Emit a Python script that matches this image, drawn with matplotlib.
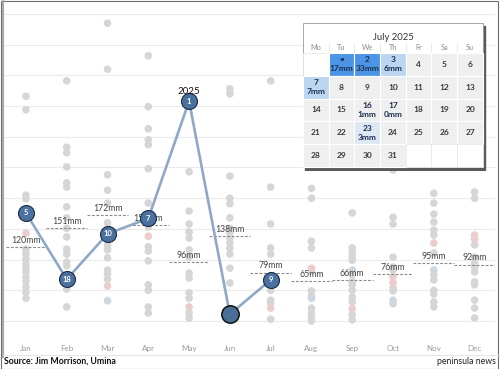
import matplotlib
matplotlib.use("Agg")
import matplotlib.pyplot as plt
from matplotlib.patches import Rectangle

plt.rcParams['font.family'] = ['Lato', 'DejaVu Sans']

months = ['Jan', 'Feb', 'Mar', 'Apr', 'May', 'Jun',
          'Jul', 'Aug', 'Sep', 'Oct', 'Nov', 'Dec']

# monthly totals (mm) of earlier years
history = [
    [366, 344, 205, 199, 117, 109, 101, 93, 86, 80, 72, 64, 55, 47, 37],
    [391, 283, 274, 251, 225, 218, 186, 168, 151, 137, 117, 109, 96, 90, 59, 52, 23],
    [485, 410, 238, 213, 192, 160, 151, 132, 124, 116, 103, 83, 77, 68],
    [432, 349, 313, 295, 287, 248, 192, 153, 121, 114, 98, 59, 50, 23, 13],
    [243, 179, 158, 145, 135, 116, 104, 78, 70, 46, 37, 13, 5],
    [378, 370, 236, 200, 191, 168, 151, 143, 135, 127, 119, 109, 86, 62],
    [391, 218, 158, 119, 109, 50, 34, 29, 3],
    [216, 200, 130, 119, 81, 49, 41, 21, 13, 5, 0],
    [176, 119, 112, 104, 99, 75, 64, 59, 50, 39, 31, 10, 2],
    [246, 169, 158, 104, 88, 83, 54, 49, 28],
    [208, 192, 174, 161, 148, 140, 111, 75, 67, 50, 44, 31, 23],
    [210, 200, 124, 104, 94, 88, 80, 64, 59, 34, 21, 5],
]
# highlighted earlier years (pink) and (grey-blue)
history_pink = [[143], [], [57], [138], [23], [], [21], [86], [20], [72, 62], [127], [140, 134]]
history_blue = [[], [], [33], [], [], [], [], [37], [83], [34], [83], []]

monthly_mean = [120, 151, 172, 157, 96, 138, 79, 65, 66, 76, 95, 92]

# 2025 so far
y2025 = [176, 68, 142, 167, 358, 11, 67]
rank2025 = ['5', '18', '10', '7', '1', '', '9']

# July 2025 daily rain (mm)
july_rain = {1: 17, 2: 33, 3: 6, 7: 7, 16: 1, 17: 0, 23: 3}
weekdays = ['Mo', 'Tu', 'We', 'Th', 'Fr', 'Sa', 'Su']
july_first_weekday = 1
july_days = 31

fig = plt.figure(figsize=(5, 3.69), dpi=100)
W, H = 500, 369

# main chart: pixel layout of the reference
ax = fig.add_axes([3.5 / W, 1 - 340 / H, (495 - 3.5) / W, (340 - 5) / H])
ax.set_xlim(-0.55, 11.5)
ax.set_ylim(-30.9, 514.6)
ax.axis('off')

for g in range(0, 501, 50):
    ax.axhline(g, color='#ebebeb', lw=0.8, zorder=0)

for i in range(12):
    ax.scatter([i] * len(history[i]), history[i], s=30, color='#d6d6d6',
               edgecolors='none', zorder=2)
    ax.scatter([i] * len(history_pink[i]), history_pink[i], s=30,
               color='#ebcdcd', edgecolors='none', zorder=2)
    ax.scatter([i] * len(history_blue[i]), history_blue[i], s=30,
               color='#ccd7e0', edgecolors='none', zorder=2)
    ax.hlines(monthly_mean[i], i - 0.5, i + 0.5, colors='#8a8a8a', lw=0.8,
              linestyles=(0, (2.5, 1.5)), zorder=3)
    ax.annotate('{}mm'.format(monthly_mean[i]), (i, monthly_mean[i]),
                xytext=(0, 1.5), textcoords='offset points', ha='center',
                va='bottom', fontsize=6.3, color='#444444', zorder=3)
    ax.text(i, -45, months[i], ha='center', va='center', fontsize=5.8,
            color='#9a9a9a')

x25 = list(range(len(y2025)))
ax.plot(x25, y2025, color='#8ea9c8', lw=1.9, zorder=4)
for i, (v, r) in enumerate(zip(y2025, rank2025)):
    if r:
        ax.plot(i, v, 'o', ms=11.5, mfc='#4a71a0', mec='#1c2c40', mew=0.8,
                zorder=5)
        ax.text(i, v, r, ha='center', va='center', fontsize=5.5,
                color='white', fontweight='bold', zorder=6)
    else:
        ax.plot(i, v, 'o', ms=12.5, mfc='#4a6e98', mec='#111111', mew=1.1,
                zorder=5)
ax.annotate('2025', (4, y2025[4]), xytext=(0, 7), textcoords='offset points',
            ha='center', va='center', fontsize=7, color='#111111', zorder=6)

# frame and captions
fig.add_artist(plt.Line2D([3 / W, 3 / W], [1 - 357 / H, 1], color='#a8a8a8',
                          lw=1.5))
fig.add_artist(plt.Line2D([3 / W, 1], [1 - 354.5 / H] * 2, color='#e6e6e6',
                          lw=0.8))
fig.add_artist(Rectangle((0.5 / W, 0.5 / H), 1 - 2.5 / W, 1 - 1 / H,
                         fill=False, ec='#6e6e6e', lw=0.8))
fig.text(4 / W, 1 - 361 / H, 'Source: Jim Morrison, Umina', fontsize=6.3,
         fontweight='bold', color='#111111', va='center', ha='left')
fig.text(496 / W, 1 - 362 / H, 'peninsula news', fontsize=6.3,
         color='#222222', va='center', ha='right')

# July calendar inset, drawn in reference pixel units
cal = fig.add_axes([302 / W, 1 - 171 / H, 185 / W, 149 / H])
cal.set_xlim(302, 487)
cal.set_ylim(171, 22)
cal.axis('off')
x0, y0, cw, rh = 303, 53, 25.7, 22.8
cal.add_patch(Rectangle((x0 + 2.5, 25.5), 180, 144, color='#5a5a5a', zorder=0))
cal.add_patch(Rectangle((x0, 23), 180, 144, fc='white', ec='#9a9a9a', lw=0.6,
                        zorder=1))
cal.text(x0 + 90, 37.5, 'July 2025', ha='center', va='center', fontsize=6.8,
         color='#333333', zorder=3)
for c, wd in enumerate(weekdays):
    cal.text(x0 + (c + 0.5) * cw, 48, wd, ha='center', va='center',
             fontsize=5.2, color='#8a8a8a', zorder=3)
    if c:
        cal.plot([x0 + c * cw] * 2, [43, y0], color='#e3e3e3', lw=0.5, zorder=2)


def rain_colour(mm):
    if mm >= 10:
        return '#4b94e6'
    if mm >= 5:
        return '#bcd6f2'
    if mm >= 2:
        return '#dde8f4'
    return '#efefef'


for slot in range(35):
    r, c = divmod(slot, 7)
    day = slot - july_first_weekday + 1
    cx, cy = x0 + c * cw, y0 + r * rh
    if day < 1 or day > july_days:
        cal.add_patch(Rectangle((cx, cy), cw, rh, fc='white', ec='#e6e6e6',
                                lw=0.5, zorder=2))
        continue
    mm = july_rain.get(day)
    fc = rain_colour(mm) if mm is not None else '#efefef'
    cal.add_patch(Rectangle((cx, cy), cw, rh, fc=fc, ec='white', lw=0.8,
                            zorder=2))
    if mm is None:
        cal.text(cx + cw / 2, cy + rh / 2, str(day), ha='center', va='center',
                 fontsize=6, color='#3a3a3a', fontweight='bold', zorder=3)
    else:
        label = '\u2022' if day == 1 else str(day)
        cal.text(cx + cw / 2, cy + rh * 0.3, label, ha='center', va='center',
                 fontsize=6, color='#1d2f4e', fontweight='bold', zorder=3)
        cal.text(cx + cw / 2, cy + rh * 0.7, '{}mm'.format(mm), ha='center',
                 va='center', fontsize=6, color='#1d2f4e', fontweight='bold',
                 zorder=3)

fig.savefig('out.png', dpi=100)
